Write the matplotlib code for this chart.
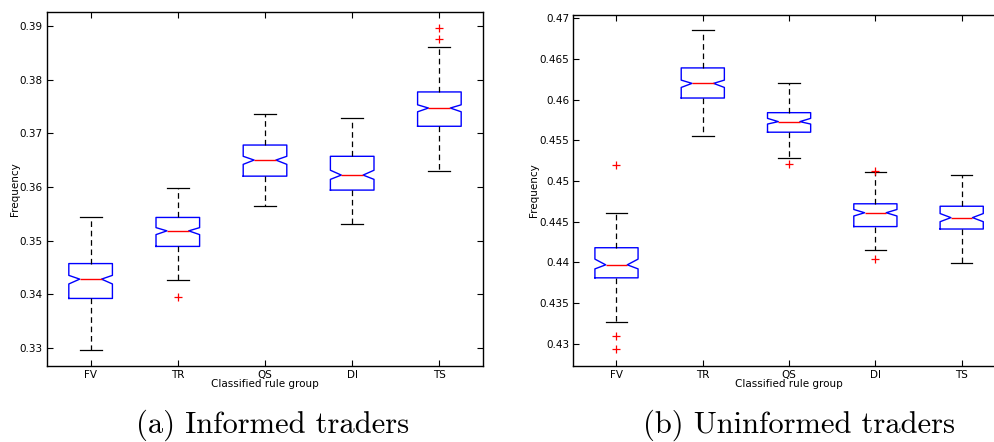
import numpy as np
import matplotlib
matplotlib.use('Agg')
import matplotlib.pyplot as plt
from matplotlib.ticker import FormatStrFormatter

groups = ['FV', 'TR', 'QS', 'DI', 'TS']

# (a) informed traders
a_whislo = [0.3296, 0.3427, 0.3565, 0.3530, 0.3630]
a_q1     = [0.3392, 0.3489, 0.3620, 0.3594, 0.3713]
a_cilo   = [0.3419, 0.3511, 0.3642, 0.3614, 0.3740]
a_med    = [0.3428, 0.3518, 0.3650, 0.3622, 0.3747]
a_cihi   = [0.3435, 0.3524, 0.3657, 0.3631, 0.3753]
a_q3     = [0.3457, 0.3543, 0.3678, 0.3657, 0.3777]
a_whishi = [0.3543, 0.3598, 0.3736, 0.3729, 0.3861]
a_fliers = [[], [0.3394], [], [], [0.3896, 0.3876]]

# (b) uninformed traders
b_whislo = [0.4327, 0.4555, 0.4528, 0.4415, 0.4399]
b_q1     = [0.4381, 0.4602, 0.4560, 0.4444, 0.4441]
b_cilo   = [0.4392, 0.4615, 0.4570, 0.4457, 0.4450]
b_med    = [0.4397, 0.4620, 0.4573, 0.4461, 0.4455]
b_cihi   = [0.4404, 0.4624, 0.4577, 0.4465, 0.4460]
b_q3     = [0.4418, 0.4639, 0.4584, 0.4472, 0.4469]
b_whishi = [0.4461, 0.4685, 0.4620, 0.4511, 0.4508]
b_fliers = [[0.4520, 0.4309, 0.4293], [], [0.4521], [0.4512, 0.4404], []]

a_yticks = [0.33, 0.34, 0.35, 0.36, 0.37, 0.38, 0.39]
b_yticks = [0.43, 0.435, 0.44, 0.445, 0.45, 0.455, 0.46, 0.465, 0.47]


def stats(whislo, q1, cilo, med, cihi, q3, whishi, fliers):
    out = []
    for i in range(len(med)):
        out.append(dict(whislo=whislo[i], q1=q1[i], cilo=cilo[i], med=med[i],
                        cihi=cihi[i], q3=q3[i], whishi=whishi[i],
                        fliers=fliers[i], label=groups[i]))
    return out


def panel(ax, st, yticks, ylim):
    ax.bxp(st, shownotches=True, widths=0.5,
           boxprops=dict(color='blue', linewidth=1.0),
           medianprops=dict(color='red', linewidth=1.0),
           whiskerprops=dict(color='black', linewidth=0.9, linestyle=(0, (4.5, 3))),
           capprops=dict(color='black', linewidth=0.9),
           flierprops=dict(marker='+', markeredgecolor='red', markersize=6,
                           markeredgewidth=0.9, linestyle='none'))
    ax.set_xlim(0.5, 5.5)
    ax.set_ylim(*ylim)
    ax.set_yticks(yticks)
    ax.yaxis.set_major_formatter(FormatStrFormatter('%g'))
    ax.tick_params(direction='in', top=True, right=True, length=4,
                   labelsize=7.5, pad=3, width=0.8)
    for s in ax.spines.values():
        s.set_linewidth(1.0)
    ax.set_xlabel('Classified rule group', fontsize=7.5)
    ax.xaxis.set_label_coords(0.5, -0.038)
    ax.set_ylabel('Frequency', fontsize=7.5, labelpad=0)


fig = plt.figure(figsize=(9.94, 4.42), dpi=100)
ax1 = fig.add_axes([0.0473, 0.1719, 0.4386, 0.8009])
ax2 = fig.add_axes([0.5768, 0.1726, 0.4341, 0.7934])

panel(ax1, stats(a_whislo, a_q1, a_cilo, a_med, a_cihi, a_q3, a_whishi, a_fliers),
      a_yticks, (0.3266, 0.3926))
panel(ax2, stats(b_whislo, b_q1, b_cilo, b_med, b_cihi, b_q3, b_whishi, b_fliers),
      b_yticks, (0.4273, 0.4704))

fig.text(0.274, 0.022, '(a) Informed traders', family='cmr10', fontsize=22,
         ha='center', va='baseline')
fig.text(0.804, 0.022, '(b) Uninformed traders', family='cmr10', fontsize=22,
         ha='center', va='baseline')

fig.savefig('out.png', dpi=100)
